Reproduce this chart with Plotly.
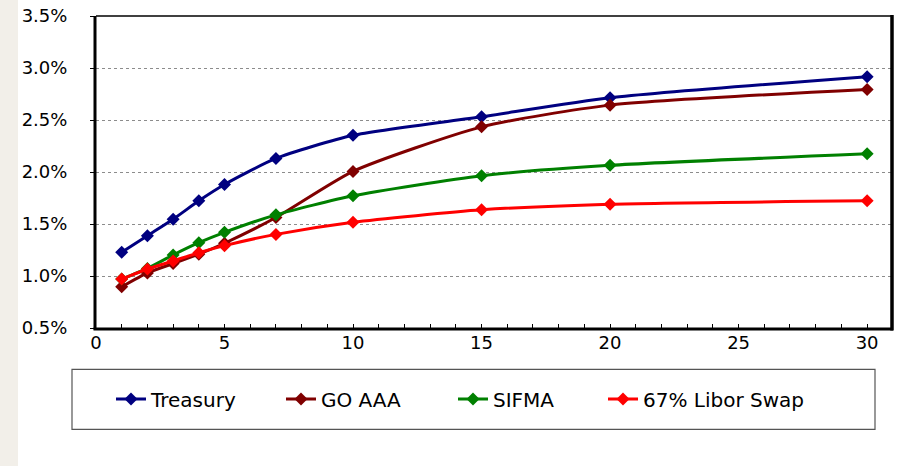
import plotly.graph_objects as go

maturity = [1, 2, 3, 4, 5, 7, 10, 15, 20, 30]
treasury = [1.228, 1.388, 1.546, 1.723, 1.88, 2.13, 2.353, 2.531, 2.714, 2.917]
go_aaa = [0.896, 1.03, 1.12, 1.21, 1.315, 1.562, 2.006, 2.434, 2.643, 2.794]
sifma = [0.97, 1.073, 1.202, 1.32, 1.42, 1.588, 1.771, 1.964, 2.064, 2.175]
libor = [0.97, 1.067, 1.144, 1.224, 1.292, 1.40, 1.517, 1.636, 1.691, 1.723]

series_names = ["Treasury", "GO AAA", "SIFMA", "67% Libor Swap"]
series_values = [treasury, go_aaa, sifma, libor]
series_colors = ["#000080", "#800000", "#008000", "#FF0000"]

y_ticks = [0.5, 1.0, 1.5, 2.0, 2.5, 3.0, 3.5]
y_tick_labels = ["0.5%", "1.0%", "1.5%", "2.0%", "2.5%", "3.0%", "3.5%"]
x_ticks = list(range(0, 31))
x_tick_labels = [str(v) if v % 5 == 0 else "" for v in x_ticks]

FONT = "DejaVu Sans"

W, H = 904, 466
L, R, T, B = 96, 891, 16, 327.7
pw, ph = R - L, B - T

def px(x):
    return (x - L) / pw

def py(y):
    return (B - y) / ph

legend_ids = ["legend", "legend2", "legend3", "legend4"]
legend_text_x = [153, 323, 495, 645]

fig = go.Figure()
for name, vals, col, lid in zip(series_names, series_values, series_colors, legend_ids):
    fig.add_trace(go.Scatter(
        x=maturity, y=vals, name=name, mode="lines+markers",
        line=dict(color=col, width=3, shape="spline", smoothing=0.6),
        marker=dict(symbol="diamond", size=10, color=col),
        legend=lid,
    ))

shapes = [
    dict(type="rect", xref="paper", yref="paper", x0=px(-5), x1=px(18), y0=py(H + 5), y1=py(-5),
         fillcolor="#F2EFE9", line=dict(width=0), layer="below"),
    dict(type="line", xref="paper", yref="paper", x0=0, x1=1, y0=1, y1=1,
         line=dict(color="black", width=1.5)),
    dict(type="line", xref="paper", yref="paper", x0=px(L - 1), x1=px(L - 1), y0=py(B + 1.5), y1=1,
         line=dict(color="black", width=3)),
    dict(type="line", xref="paper", yref="paper", x0=px(L - 2.5), x1=px(R + 2), y0=py(B + 1), y1=py(B + 1),
         line=dict(color="black", width=3)),
    dict(type="line", xref="paper", yref="paper", x0=px(R + 1), x1=px(R + 1), y0=py(B + 2.5), y1=py(T - 1),
         line=dict(color="black", width=3.5)),
    dict(type="rect", xref="paper", yref="paper", x0=px(72), x1=px(875), y0=py(429), y1=py(369),
         line=dict(color="#555555", width=1.2), fillcolor="rgba(0,0,0,0)"),
]

legends = {}
for lid, tx in zip(legend_ids, legend_text_x):
    legends[lid] = dict(orientation="h", xref="container", yref="container",
                        x=(tx - 42) / W, xanchor="left", y=1 - 399 / H, yanchor="middle",
                        font=dict(family=FONT, size=20, color="black"), bgcolor="rgba(0,0,0,0)",
                        borderwidth=0, itemwidth=30)

fig.update_layout(
    width=W, height=H,
    margin=dict(l=L, r=W - R, t=T, b=H - B, pad=0, autoexpand=False),
    paper_bgcolor="white", plot_bgcolor="white",
    font=dict(family=FONT, color="black", size=18),
    showlegend=True,
    shapes=shapes,
    xaxis=dict(range=[0, 30.93], tickvals=x_ticks, ticktext=x_tick_labels,
               ticks="inside", ticklen=4, tickcolor="black", tickwidth=1,
               showgrid=False, zeroline=False, showline=False, automargin=False,
               tickfont=dict(family=FONT, size=18), ticklabelstandoff=2),
    yaxis=dict(range=[0.5, 3.5], tickvals=y_ticks, ticktext=y_tick_labels,
               ticks="outside", ticklen=5, tickcolor="black", tickwidth=1,
               showgrid=True, gridcolor="#8C8C8C", griddash="dot", gridwidth=1,
               zeroline=False, showline=False, automargin=False,
               tickfont=dict(family=FONT, size=18), ticklabelstandoff=19),
    **legends,
)

fig.write_html("out.html", config={"displayModeBar": False},
               post_script="document.body.style.margin='0';document.body.style.padding='0';")
